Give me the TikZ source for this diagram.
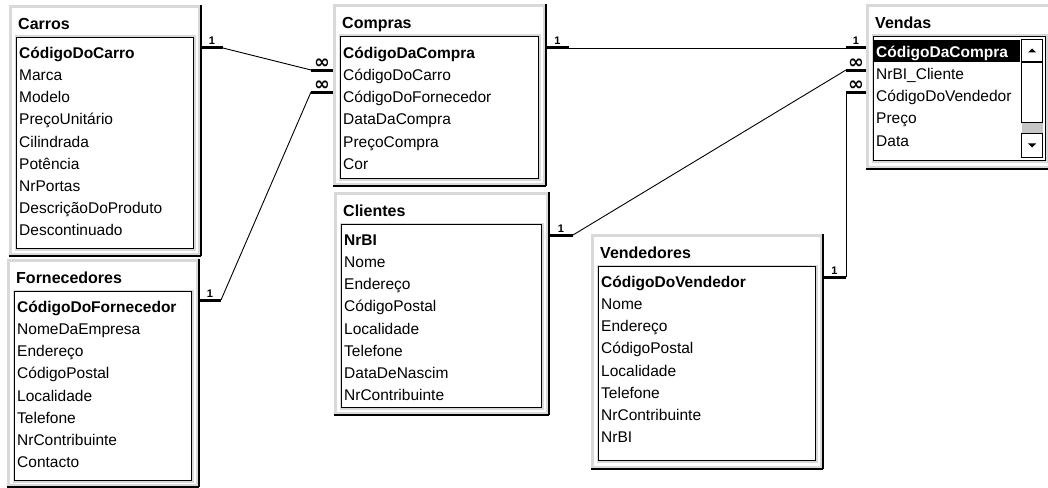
\documentclass[tikz,border=0pt]{standalone}
\usepackage{fontspec}
\setmainfont{Liberation Sans}
\newfontfamily\symfont{DejaVu Sans}
\usetikzlibrary{positioning}
\tikzset{
  frame/.style={ % window of one table
    draw=gray!30, line width=3pt, fill=white,
    rectangle, inner sep=0pt, anchor=north west,
    append after command={
      (\tikzlastnode.north east) edge[edgeline] (\tikzlastnode.south east)
      (\tikzlastnode.south east) edge[edgeline] (\tikzlastnode.south west)
    }
  },
  edgeline/.style={draw=black, line width=1.5pt},
  fields/.style={ % white box with the list of fields
    draw=black, line width=1pt, fill=white,
    rectangle, inner sep=0pt,
    preaction={draw=gray!30, line width=4pt}
  },
  title/.style={font=\fontsize{16}{16}\selectfont\bfseries, inner sep=0pt},
  rows/.style={font=\fontsize{15.5}{22.2}\selectfont, align=left, inner sep=0pt},
  sel/.style={fill=black, rectangle, inner sep=0pt,
    minimum width=146pt, minimum height=22pt},
  sbtn/.style={draw=black, fill=white, line width=0.8pt, rectangle,
    inner sep=0pt, minimum width=21pt, minimum height=22pt},
  track/.style={fill=gray!45, rectangle, inner sep=0pt,
    minimum width=21pt, minimum height=10pt},
  bar/.style={line width=3pt},
  link/.style={line width=0.9pt},
  mult/.style={font=\fontsize{11}{11}\selectfont\bfseries, inner sep=1.5pt},
  many/.style={font=\symfont\fontsize{19}{19}\selectfont\bfseries, inner sep=0pt}
}
\begin{document}
\begin{tikzpicture}[x=1pt, y=-1pt]
  \useasboundingbox (0,0) rectangle (1048,487);

  % Carros
  \node[frame, minimum width=189pt, minimum height=248pt] (carros) at (9,5) {};
  \node[title, below right=13pt and 9pt of carros.north west] (carros-t) {Carros};
  \node[fields, below right=32pt and 7pt of carros.north west,
    minimum width=177pt, minimum height=211pt] (carros-f) {};
  \node[rows, below right=5pt and 3pt of carros-f.north west] (carros-r)
    {\rule{0pt}{16pt}\textbf{CódigoDoCarro}\\Marca\\Modelo\\PreçoUnitário\\Cilindrada\\Potência\\NrPortas\\DescriçãoDoProduto\\Descontinuado};

  % Fornecedores
  \node[frame, minimum width=189pt, minimum height=225pt] (forn) at (7,259) {};
  \node[title, below right=13pt and 9pt of forn.north west] (forn-t) {Fornecedores};
  \node[fields, below right=32pt and 7pt of forn.north west,
    minimum width=177pt, minimum height=189pt] (forn-f) {};
  \node[rows, below right=5pt and 3pt of forn-f.north west] (forn-r)
    {\rule{0pt}{16pt}\textbf{CódigoDoFornecedor}\\NomeDaEmpresa\\Endereço\\CódigoPostal\\Localidade\\Telefone\\NrContribuinte\\Contacto};

  % Compras
  \node[frame, minimum width=210pt, minimum height=179pt] (compras) at (333,4) {};
  \node[title, below right=13pt and 9pt of compras.north west] (compras-t) {Compras};
  \node[fields, below right=32pt and 7pt of compras.north west,
    minimum width=198pt, minimum height=142pt] (compras-f) {};
  \node[rows, below right=6pt and 3pt of compras-f.north west] (compras-r)
    {\rule{0pt}{16pt}\textbf{CódigoDaCompra}\\CódigoDoCarro\\CódigoDoFornecedor\\DataDaCompra\\PreçoCompra\\Cor};

  % Clientes
  \node[frame, minimum width=212pt, minimum height=220pt] (clientes) at (334,192) {};
  \node[title, below right=13pt and 9pt of clientes.north west] (clientes-t) {Clientes};
  \node[fields, below right=32pt and 7pt of clientes.north west,
    minimum width=200pt, minimum height=183pt] (clientes-f) {};
  \node[rows, below right=5pt and 3pt of clientes-f.north west] (clientes-r)
    {\rule{0pt}{16pt}\textbf{NrBI}\\Nome\\Endereço\\CódigoPostal\\Localidade\\Telefone\\DataDeNascim\\NrContribuinte};

  % Vendedores
  \node[frame, minimum width=229pt, minimum height=232pt] (vend) at (591,234) {};
  \node[title, below right=13pt and 9pt of vend.north west] (vend-t) {Vendedores};
  \node[fields, below right=32pt and 7pt of vend.north west,
    minimum width=217pt, minimum height=194pt] (vend-f) {};
  \node[rows, below right=5pt and 3pt of vend-f.north west] (vend-r)
    {\rule{0pt}{16pt}\textbf{CódigoDoVendedor}\\Nome\\Endereço\\CódigoPostal\\Localidade\\Telefone\\NrContribuinte\\NrBI};

  % Vendas (cut by the right margin)
  \node[frame, minimum width=184pt, minimum height=162pt] (vendas) at (866,4) {};
  \node[title, below right=13pt and 9pt of vendas.north west] (vendas-t) {Vendas};
  \node[fields, below right=32pt and 7pt of vendas.north west,
    minimum width=172pt, minimum height=124pt] (vendas-f) {};
  \node[sel, below right=4pt and 1pt of vendas-f.north west] (vendas-s) {};
  \node[rows, below right=5pt and 3pt of vendas-f.north west] (vendas-r)
    {\rule{0pt}{16pt}\textcolor{white}{\textbf{CódigoDaCompra}}\\NrBI\_Cliente\\CódigoDoVendedor\\Preço\\Data};
  \node[sbtn, below left=3pt and 3pt of vendas-f.north east] (vendas-up) {};
  \node[sbtn, below=0pt of vendas-up, minimum height=60pt] (vendas-th) {};
  \node[track, below=0pt of vendas-th] (vendas-tr) {};
  \node[sbtn, below=0pt of vendas-tr, minimum height=24pt] (vendas-dn) {};
  \fill (vendas-up.center) ++(-4,2) -- ++(8,0) -- ++(-4,-4) -- cycle;
  \fill (vendas-dn.center) ++(-4,-2) -- ++(8,0) -- ++(-4,4) -- cycle;

  % relationship ends
  \coordinate (carros-k) at (carros.east |- 0,48);
  \coordinate (forn-k) at (forn.east |- 0,300);
  \coordinate (compras-c) at (compras.west |- 0,70);
  \coordinate (compras-f) at (compras.west |- 0,92);
  \coordinate (compras-k) at (compras.east |- 0,48);
  \coordinate (clientes-k) at (clientes.east |- 0,235);
  \coordinate (vend-k) at (vend.east |- 0,277);
  \coordinate (vendas-c) at (vendas.west |- 0,48);
  \coordinate (vendas-b) at (vendas.west |- 0,70);
  \coordinate (vendas-v) at (vendas.west |- 0,92);

  \draw[bar] (carros-k) -- node[mult, above] (m1) {1} ++(22,0) coordinate (carros-k1);
  \draw[bar] (forn-k) -- node[mult, above] (m2) {1} ++(22,0) coordinate (forn-k1);
  \draw[bar] (compras-k) -- node[mult, above] (m3) {1} ++(23,0) coordinate (compras-k1);
  \draw[bar] (clientes-k) -- node[mult, above] (m4) {1} ++(24,0) coordinate (clientes-k1);
  \draw[bar] (vend-k) -- node[mult, above] (m5) {1} ++(23,0) coordinate (vend-k1);
  \draw[bar] (compras-c) -- node[many, above] (n1) {∞} ++(-22,0) coordinate (compras-c1);
  \draw[bar] (compras-f) -- node[many, above] (n2) {∞} ++(-22,0) coordinate (compras-f1);
  \draw[bar] (vendas-c) -- node[mult, above] (m6) {1} ++(-20,0) coordinate (vendas-c1);
  \draw[bar] (vendas-b) -- node[many, above] (n3) {∞} ++(-20,0) coordinate (vendas-b1);
  \draw[bar] (vendas-v) -- node[many, above] (n4) {∞} ++(-20,0) coordinate (vendas-v1);

  \draw[link] (carros-k1) -- (compras-c1);
  \draw[link] (forn-k1) -- (compras-f1);
  \draw[link] (compras-k1) -- (vendas-c1);
  \draw[link] (clientes-k1) -- (vendas-b1);
  \draw[link] (vend-k1) -- (vendas-v1);
\end{tikzpicture}
\end{document}
